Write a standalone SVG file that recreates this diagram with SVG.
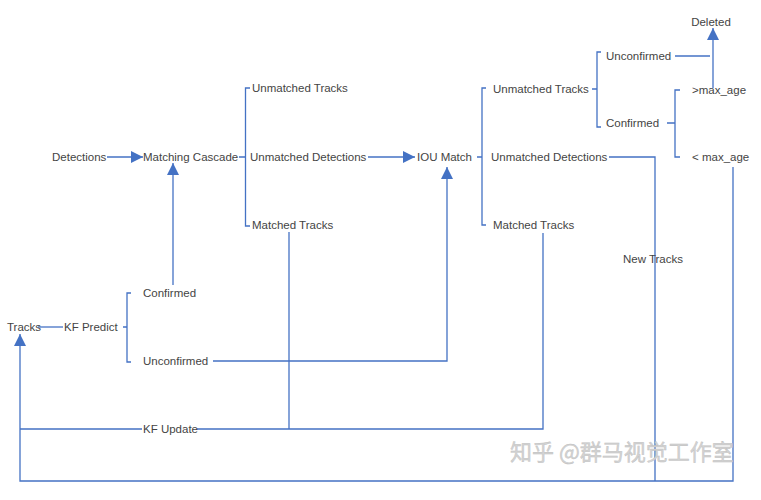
<svg xmlns="http://www.w3.org/2000/svg" width="761" height="500" viewBox="0 0 761 500">
<style>
text{font-family:"Liberation Sans",Arial,sans-serif;font-size:11.5px;fill:#444}
.c{fill:none;stroke:#4472C4;stroke-width:1.3}
.wm{font-family:"Noto Sans CJK SC",sans-serif;font-size:22px;fill:#d4d4d4;stroke:#bdbdbd;stroke-width:0.4}
</style>
<defs>
<marker id="ar" markerUnits="userSpaceOnUse" markerWidth="12" markerHeight="12" refX="12" refY="6" orient="auto">
<path d="M0,0 L12,6 L0,12 z" fill="#4472C4"/>
</marker>
</defs>
<rect width="761" height="500" fill="#fff"/>
<g id="connectors">
<path class="c" d="M107,157 H143" marker-end="url(#ar)"/>
<path class="c" d="M173,285 V163" marker-end="url(#ar)"/>
<path class="c" d="M239,157 H245.5 M250,88 H245.5 V226 H250"/>
<path class="c" d="M368,157 H415" marker-end="url(#ar)"/>
<path class="c" d="M289,232 V429"/>
<path class="c" d="M38,327 H63"/>
<path class="c" d="M123,327 H127 M131,293 H127 V362 H131"/>
<path class="c" d="M213,361 H447 V167" marker-end="url(#ar)"/>
<path class="c" d="M20,429 H142 M197,429 H543 V233"/>
<path class="c" d="M733,167 V481 H20 V334" marker-end="url(#ar)"/>
<path class="c" d="M609,157 H655 V481"/>
<path class="c" d="M477,157 H482 M486,88 H482 V225 H486"/>
<path class="c" d="M592,89 H597 M601,52 H597 V127 H601"/>
<path class="c" d="M675,56 H710"/>
<path class="c" d="M713,88 V28" marker-end="url(#ar)"/>
<path class="c" d="M667,123 H675 M680,90 H675 V157 H680"/>
</g>
<g id="detections"><text x="52" y="161">Detections</text></g>
<g id="matching-cascade"><text x="143" y="161">Matching Cascade</text></g>
<g id="mc-unmatched-tracks"><text x="252" y="92">Unmatched Tracks</text></g>
<g id="mc-unmatched-detections"><text x="250" y="161">Unmatched Detections</text></g>
<g id="mc-matched-tracks"><text x="252" y="229">Matched Tracks</text></g>
<g id="iou-match"><text x="417" y="161">IOU Match</text></g>
<g id="iou-unmatched-tracks"><text x="493" y="93">Unmatched Tracks</text></g>
<g id="iou-unmatched-detections"><text x="491" y="161">Unmatched Detections</text></g>
<g id="iou-matched-tracks"><text x="493" y="229">Matched Tracks</text></g>
<g id="ut-unconfirmed"><text x="606" y="60">Unconfirmed</text></g>
<g id="ut-confirmed"><text x="606" y="127">Confirmed</text></g>
<g id="gt-max-age"><text x="692" y="94">&gt;max_age</text></g>
<g id="lt-max-age"><text x="692" y="161">&lt; max_age</text></g>
<g id="deleted"><text x="711" y="26" text-anchor="middle">Deleted</text></g>
<g id="new-tracks"><text x="653" y="263" text-anchor="middle">New Tracks</text></g>
<g id="tracks"><text x="7" y="331">Tracks</text></g>
<g id="kf-predict"><text x="64" y="331">KF Predict</text></g>
<g id="confirmed"><text x="143" y="297">Confirmed</text></g>
<g id="unconfirmed"><text x="143" y="365">Unconfirmed</text></g>
<g id="kf-update"><text x="143" y="433">KF Update</text></g>
<text class="wm" x="510" y="460">知乎 @群马视觉工作室</text>
</svg>
